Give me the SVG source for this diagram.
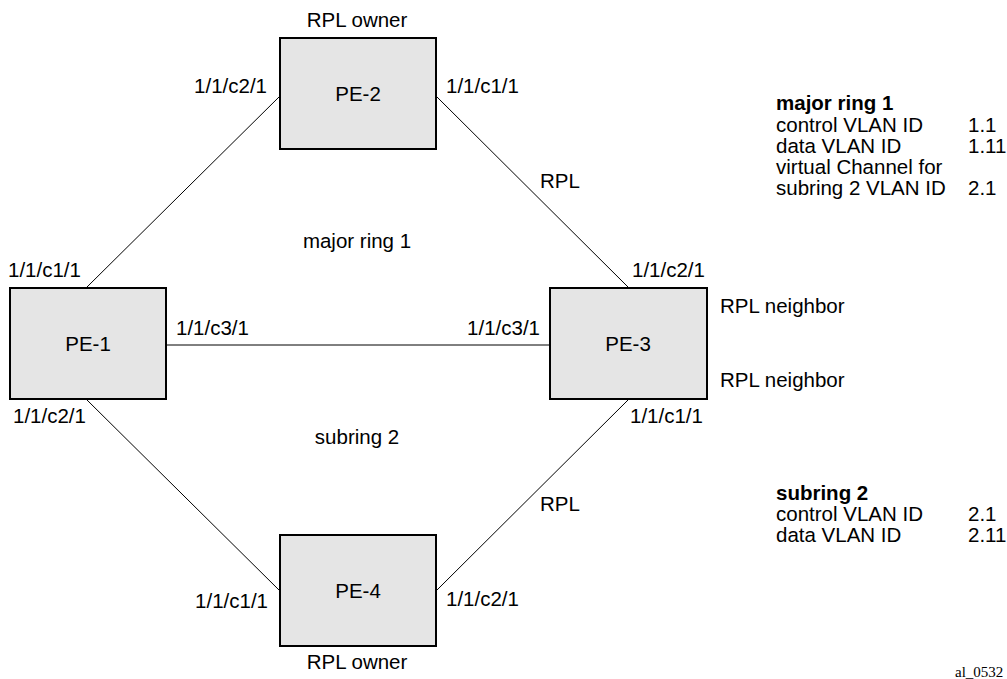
<svg xmlns="http://www.w3.org/2000/svg" width="1007" height="679" viewBox="0 0 1007 679">
<style>
.bg{fill:#ffffff}
.box{fill:#e5e5e5;stroke:#000;stroke-width:2}
.ln{stroke:#000;stroke-width:1;fill:none}
text{font-family:"Liberation Sans",Arial,sans-serif;font-size:20.5px;fill:#000}
.c{text-anchor:middle}
.e{text-anchor:end}
.b{font-weight:bold}
.note{font-family:"Liberation Serif","Times New Roman",serif;font-size:15px}
</style>
<rect class="bg" x="0" y="0" width="1007" height="679"/>
<g id="connectors">
<line class="ln" x1="280" y1="96" x2="86" y2="288"/>
<line class="ln" x1="436" y1="96" x2="629" y2="288"/>
<line class="ln" x1="166" y1="345" x2="550" y2="345"/>
<line class="ln" x1="86" y1="399" x2="280" y2="591"/>
<line class="ln" x1="436" y1="591" x2="629" y2="399"/>
</g>
<g id="PE-2">
<rect class="box" x="280" y="38" width="156" height="111"/>
<text class="c" x="358" y="101">PE-2</text>
</g>
<g id="PE-1">
<rect class="box" x="10" y="288" width="156" height="111"/>
<text class="c" x="88" y="351">PE-1</text>
</g>
<g id="PE-3">
<rect class="box" x="550" y="288" width="157" height="111"/>
<text class="c" x="628" y="351">PE-3</text>
</g>
<g id="PE-4">
<rect class="box" x="280" y="535" width="156" height="111"/>
<text class="c" x="358" y="598">PE-4</text>
</g>
<g id="labels">
<text class="c" x="357" y="27">RPL owner</text>
<text class="e" x="267" y="93">1/1/c2/1</text>
<text x="446" y="93">1/1/c1/1</text>
<text class="c" x="357" y="248">major ring 1</text>
<text x="8" y="277">1/1/c1/1</text>
<text x="176" y="335">1/1/c3/1</text>
<text class="e" x="540" y="335">1/1/c3/1</text>
<text x="540" y="188">RPL</text>
<text x="632" y="277">1/1/c2/1</text>
<text x="720" y="313">RPL neighbor</text>
<text x="720" y="387">RPL neighbor</text>
<text x="630" y="423">1/1/c1/1</text>
<text x="13" y="423">1/1/c2/1</text>
<text class="c" x="357" y="444">subring 2</text>
<text x="540" y="511">RPL</text>
<text class="e" x="268" y="608">1/1/c1/1</text>
<text x="446" y="606">1/1/c2/1</text>
<text class="c" x="357" y="669">RPL owner</text>
</g>
<g id="legend-major">
<text class="b" x="776" y="110">major ring 1</text>
<text x="776" y="132">control VLAN ID</text>
<text x="968" y="132">1.1</text>
<text x="776" y="153">data VLAN ID</text>
<text x="968" y="153">1.11</text>
<text x="776" y="174">virtual Channel for</text>
<text x="776" y="195">subring 2 VLAN ID</text>
<text x="968" y="195">2.1</text>
</g>
<g id="legend-sub">
<text class="b" x="776" y="500">subring 2</text>
<text x="776" y="521">control VLAN ID</text>
<text x="968" y="521">2.1</text>
<text x="776" y="542">data VLAN ID</text>
<text x="968" y="542">2.11</text>
</g>
<text class="note" x="955" y="677">al_0532</text>
</svg>
